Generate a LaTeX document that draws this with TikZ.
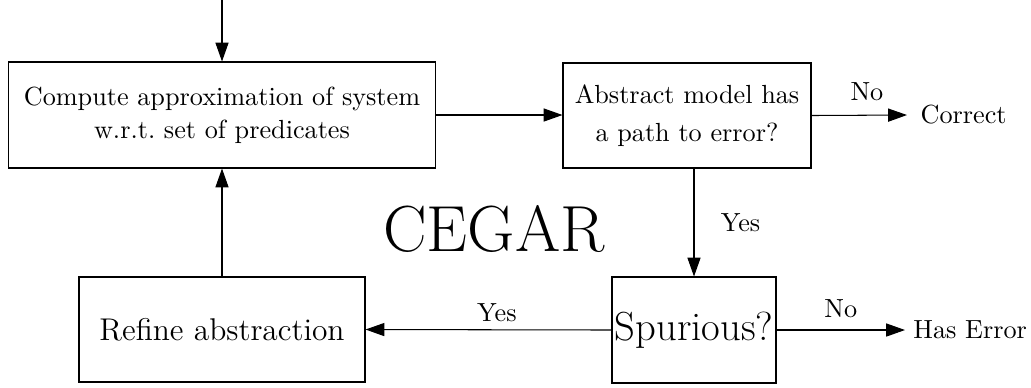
\documentclass[tikz,border=0pt]{standalone}
\usetikzlibrary{arrows.meta}
\begin{document}
\begin{tikzpicture}[x=0.3817pt,y=-0.3817pt,
  box/.style={draw, line width=0.4pt, inner sep=0pt, align=center},
  arr/.style={-{Triangle[length=7.2pt,width=5pt]}, line width=0.4pt},
  lbl/.style={inner sep=0pt}]
\useasboundingbox (0,0) rectangle (1031,387);
\node[box, minimum width={427*0.3817pt}, minimum height={106*0.3817pt}] (comp) at (222,115)
  {Compute approximation of system\\[0.6pt] w.r.t.\ set of predicates};
\node[box, minimum width={248*0.3817pt}, minimum height={105*0.3817pt}] (abs) at (687,115.5)
  {Abstract model has\\[2.5pt] a path to error?};
\node[box, minimum width={286*0.3817pt}, minimum height={105*0.3817pt}, font=\large] (ref) at (222,329.5)
  {Refine abstraction};
\node[box, minimum width={164*0.3817pt}, minimum height={106*0.3817pt}, font=\fontsize{15.5}{18}\selectfont] (spur) at (694,330)
  {Spurious?};
\node[lbl, inner xsep=5pt, anchor=west] (cor) at (907,115) {Correct};
\node[lbl, inner xsep=3pt, anchor=west] (err) at (905,330) {Has Error};
\node[lbl, font=\Huge] (cegar) at (494,228.5) {CEGAR};
\coordinate (start) at (222,0);
\draw[arr] (start) -- (comp.north);
\draw[arr] (comp.east) -- (comp.east -| abs.west);
\draw[arr] (abs.east) -- node[above=2pt, pos=0.58] {No} (cor.west);
\draw[arr] (abs.south -| spur.north) -- node[right=6.7pt] {Yes} (spur.north);
\draw[arr] (spur.east) -- node[above=1.3pt] {No} (err.west);
\draw[arr] (spur.west) -- node[above, inner sep=2.7pt, pos=0.466] {Yes} (ref.east);
\draw[arr] (ref.north) -- (comp.south);
\end{tikzpicture}
\end{document}
